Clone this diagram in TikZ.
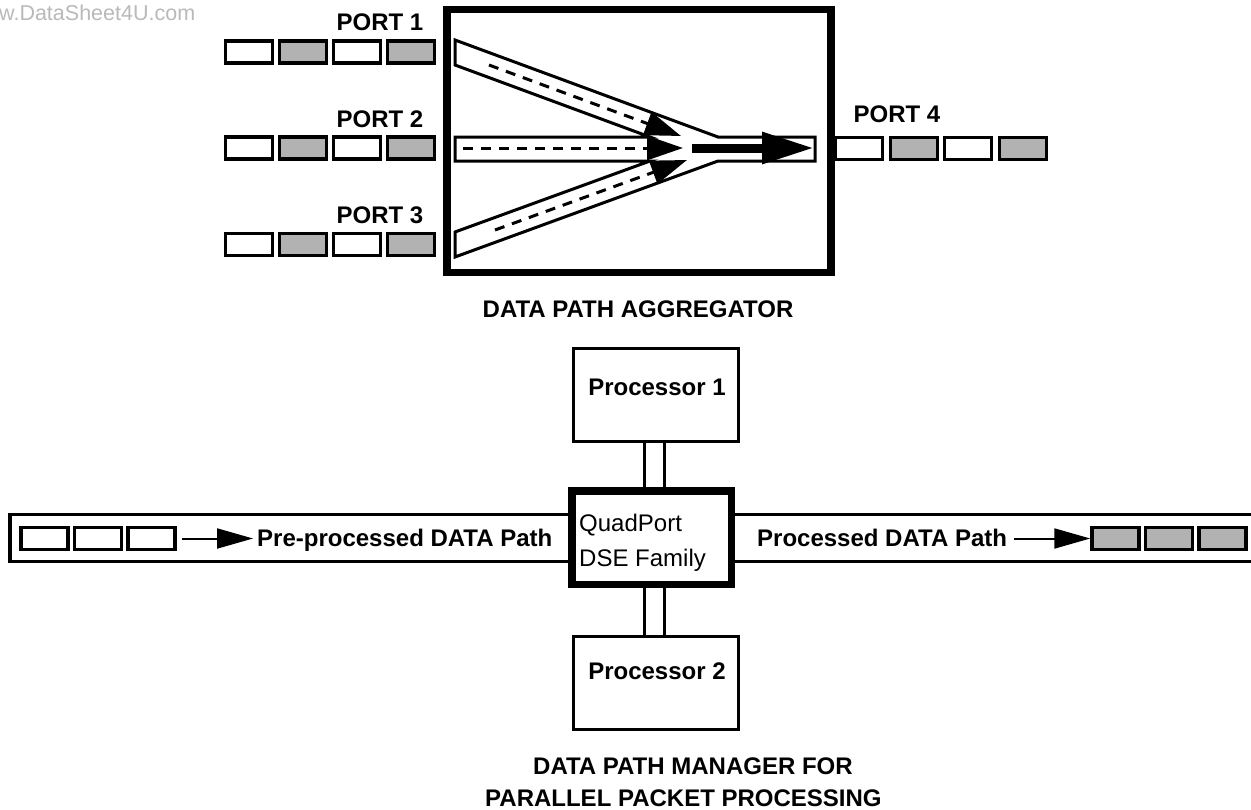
\documentclass[tikz,border=0pt]{standalone}
\usepackage{fontspec}
\setmainfont{Liberation Sans}
\usetikzlibrary{arrows.meta}
\definecolor{cellgray}{RGB}{178,178,178}
\definecolor{wmgray}{RGB}{185,185,185}
\begin{document}
\begin{tikzpicture}[x=1pt,y=-1pt,
  lbl/.style={font=\fontsize{24}{28}\selectfont\bfseries, inner sep=0pt, anchor=base},
  plain/.style={font=\fontsize{24}{28}\selectfont, inner sep=0pt, anchor=base west},
  cellw/.style={draw, line width=3.5pt, fill=white, minimum width=47pt, minimum height=22pt, inner sep=0pt},
  cellg/.style={cellw, fill=cellgray},
  band/.style={draw, line width=3pt, line join=miter},
  thickbox/.style={draw, line width=7.5pt, inner sep=0pt},
  procbox/.style={draw, line width=3pt, inner sep=0pt, minimum width=165pt, minimum height=93pt},
  dasharrow/.style={line width=3pt, dash pattern=on 10pt off 8pt, -{Triangle[length=36pt,width=24pt]}},
  bigarrow/.style={line width=9pt, -{Triangle[length=52pt,width=30pt]}},
  thinarrow/.style={line width=2pt, -{Triangle[length=36pt,width=20pt]}},
  conn/.style={line width=3pt},
  bandline/.style={line width=3.5pt}
]
\useasboundingbox (0,0) rectangle (1251,809);

% watermark
\node[font=\fontsize{21.5}{25}\selectfont, text=wmgray, inner sep=0pt, anchor=base west] (wm) at (-1,20) {w.DataSheet4U.com};

% ---------- DATA PATH AGGREGATOR ----------
\node[thickbox, minimum width=384pt, minimum height=263pt] (agg) at (639,141) {};

% input ports
\foreach \r/\y in {1/52, 2/148, 3/244.5} {
  \node[cellw] (in\r a) at (249,\y) {};
  \node[cellg] (in\r b) at (303,\y) {};
  \node[cellw] (in\r c) at (357,\y) {};
  \node[cellg] (in\r d) at (411,\y) {};
}
\node[lbl] (port1) at (380,30) {PORT 1};
\node[lbl] (port2) at (380,127) {PORT 2};
\node[lbl] (port3) at (380,223) {PORT 3};

% output port
\node[cellw] (outa) at (859,148.5) {};
\node[cellg] (outb) at (914,148.5) {};
\node[cellw] (outc) at (968,148.5) {};
\node[cellg] (outd) at (1023,148.5) {};
\node[lbl] (port4) at (897,122) {PORT 4};

% merging lanes
\draw[band, fill=white] (455,65) -- (650,137) -- (455,137) -- (455,161) -- (650,161)
  -- (455,232) -- (455,257) -- (718,161) -- (815,161) -- (815,137) -- (718,137)
  -- (455,40) -- cycle;

\coordinate (u0) at (489,65);  \coordinate (u1) at (681,136);
\coordinate (m0) at (463,148); \coordinate (m1) at (683,148);
\coordinate (l0) at (495,230); \coordinate (l1) at (687,160);
\coordinate (o0) at (692,148); \coordinate (o1) at (814,148);
\draw[dasharrow] (u0) -- (u1);
\draw[dasharrow] (m0) -- (m1);
\draw[dasharrow] (l0) -- (l1);
\draw[bigarrow] (o0) -- (o1);

\node[lbl] (aggtitle) at (638,317) {DATA PATH AGGREGATOR};

% ---------- DATA PATH MANAGER ----------
\node[procbox] (p1) at (656,395) {};
\node[procbox] (p2) at (656,683) {};
\node[lbl] (p1t) at (657,395) {Processor 1};
\node[lbl] (p2t) at (657,679) {Processor 2};

\node[thickbox, minimum width=159.5pt, minimum height=93.5pt] (qp) at (651.5,537.5) {};
\node[plain] (qpt1) at (579,531) {QuadPort};
\node[plain] (qpt2) at (579,566) {DSE Family};

\coordinate (c1) at (644,0);
\coordinate (c2) at (664,0);
\draw[conn] (p1.south -| c1) -- (qp.north -| c1);
\draw[conn] (p1.south -| c2) -- (qp.north -| c2);
\draw[conn] (qp.south -| c1) -- (p2.north -| c1);
\draw[conn] (qp.south -| c2) -- (p2.north -| c2);

% left band
\coordinate (lb1) at (10,514.5);
\coordinate (lb2) at (10,561.5);
\draw[bandline, line join=miter] (qp.west |- lb1) -- (lb1) -- (lb2) -- (qp.west |- lb2);
% right band
\coordinate (rb1) at (1253,514.5);
\coordinate (rb2) at (1253,561.5);
\draw[bandline] (qp.east |- rb1) -- (rb1);
\draw[bandline] (qp.east |- rb2) -- (rb2);

\node[cellw] (lc1) at (44.5,538.5) {};
\node[cellw] (lc2) at (98,538.5) {};
\node[cellw] (lc3) at (151.5,538.5) {};
\node[cellg] (rc1) at (1115.5,538.5) {};
\node[cellg] (rc2) at (1169,538.5) {};
\node[cellg] (rc3) at (1222.5,538.5) {};

\node[lbl, anchor=base west] (pre) at (257,546.5) {Pre-processed DATA Path};
\node[lbl, anchor=base west] (post) at (757,546.5) {Processed DATA Path};

\draw[thinarrow, shorten <=5pt, shorten >=4pt] (lc3.east) -- (lc3.east -| pre.west);
\draw[thinarrow, shorten <=7pt] (rc1.west -| post.east) -- (rc1.west);

\node[lbl, anchor=base west] (mgr1) at (533,774) {DATA PATH MANAGER FOR};
\node[lbl, anchor=base west] (mgr2) at (485,806) {PARALLEL PACKET PROCESSING};
\end{tikzpicture}
\end{document}
